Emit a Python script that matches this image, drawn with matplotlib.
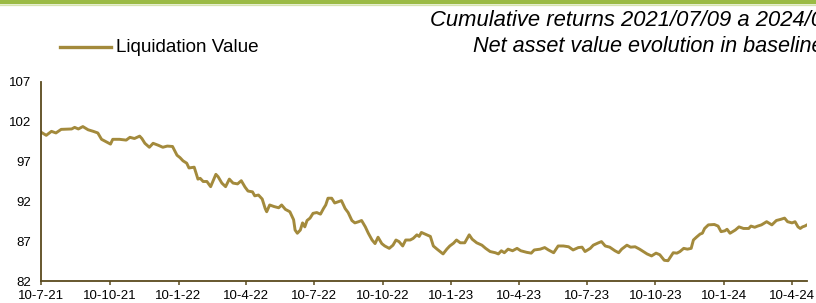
import pandas as pd
import matplotlib
matplotlib.use("Agg")
import matplotlib.pyplot as plt
from matplotlib.lines import Line2D

# ---- DATA ----
START_DATE = "2021-07-10"
END_DATE = "2024-04-30"

# days since START_DATE
days = [
    0, 7, 14, 20, 27, 41, 45, 50, 56, 63, 70, 76, 81, 87, 93, 96, 105, 114, 119, 125,
    132, 135, 139, 145, 150, 157, 163, 169, 176, 182, 186, 190, 195, 198, 205, 210, 213,
    217, 222, 227, 234, 237, 242, 247, 252, 257, 263, 268, 273, 277, 283, 286, 291, 296,
    300, 302, 306, 312, 318, 322, 327, 333, 338, 340, 343, 347, 350, 353, 356, 360, 364,
    369, 374, 378, 381, 384, 389, 393, 399, 402, 407, 411, 416, 420, 425, 429, 434, 438,
    443, 447, 451, 456, 460, 466, 471, 475, 479, 484, 488, 494, 498, 503, 506, 509, 516,
    521, 525, 530, 534, 538, 543, 547, 552, 556, 561, 567, 573, 577, 583, 590, 595, 601,
    608, 612, 616, 620, 625, 631, 637, 642, 650, 656, 660, 668, 674, 679, 686, 692, 699,
    706, 712, 719, 724, 728, 735, 739, 746, 750, 755, 761, 768, 773, 777, 784, 789, 795,
    801, 806, 811, 817, 823, 828, 834, 839, 846, 851, 855, 860, 865, 870, 873, 877, 882,
    885, 888, 893, 901, 906, 910, 915, 918, 922, 929, 934, 940, 947, 950, 955, 959, 964,
    971, 978, 984, 990, 995, 999, 1005, 1009, 1013, 1016, 1019, 1022, 1025,
]

liquidation_value = [
    100.7, 100.3, 100.8, 100.6, 101.05, 101.1, 101.3, 101.1, 101.4, 101.0, 100.8, 100.6,
    99.8, 99.5, 99.2, 99.8, 99.8, 99.7, 100.05, 99.9, 100.2, 99.9, 99.3, 98.8, 99.3, 99.05,
    98.8, 98.95, 98.9, 97.8, 97.5, 97.1, 96.8, 96.2, 96.3, 94.8, 94.9, 94.5, 94.5, 93.85,
    95.4, 95.1, 94.3, 93.85, 94.8, 94.3, 94.2, 94.6, 93.8, 93.3, 93.2, 92.7, 92.8, 92.3,
    91.1, 90.7, 91.55, 91.35, 91.2, 91.55, 91.0, 90.7, 89.7, 88.4, 88.0, 88.4, 89.3, 88.8,
    89.6, 89.9, 90.5, 90.6, 90.4, 91.1, 91.55, 92.4, 92.4, 91.8, 92.0, 92.1, 91.1, 90.6,
    89.6, 89.3, 89.45, 89.6, 88.8, 88.0, 87.15, 86.7, 87.5, 86.7, 86.4, 86.1, 86.5, 87.15,
    86.95, 86.4, 87.15, 87.15, 87.35, 87.8, 87.6, 88.1, 87.8, 87.6, 86.4, 86.0, 85.7, 85.4,
    86.0, 86.4, 86.75, 87.15, 86.8, 86.8, 87.8, 87.25, 86.8, 86.5, 86.1, 85.7, 85.55, 85.4,
    85.8, 85.55, 86.0, 85.8, 86.1, 85.8, 85.6, 85.5, 85.9, 86.0, 86.2, 85.9, 85.55, 86.4,
    86.4, 86.3, 85.9, 86.2, 86.25, 85.7, 86.1, 86.5, 86.8, 86.95, 86.4, 86.25, 85.8, 85.55,
    86.0, 86.5, 86.25, 86.3, 86.0, 85.7, 85.4, 85.15, 85.5, 85.3, 84.6, 84.55, 85.55, 85.5,
    85.7, 86.1, 86.0, 86.1, 87.15, 87.5, 87.9, 88.0, 88.6, 89.05, 89.1, 88.9, 88.2, 88.3,
    88.5, 88.0, 88.4, 88.8, 88.6, 88.6, 88.9, 88.75, 88.9, 89.05, 89.45, 89.05, 89.6, 89.75,
    89.9, 89.45, 89.3, 89.45, 88.8, 88.6, 88.8, 88.9, 89.05,
]

tick_dates = [
    "2021-07-10", "2021-10-10", "2022-01-10", "2022-04-10", "2022-07-10", "2022-10-10",
    "2023-01-10", "2023-04-10", "2023-07-10", "2023-10-10", "2024-01-10", "2024-04-10",
]
y_ticks = [82, 87, 92, 97, 102, 107]

TITLE_1 = "Cumulative returns 2021/07/09 a 2024/04/30"
TITLE_2 = "Net asset value evolution in baseline 100"
SERIES_NAME = "Liquidation Value"
# -------------------

LINE_COLOR = "#A38A3C"
AXIS_COLOR = "#5A4A1E"
GREEN = "#9BBB45"

plt.rcParams["font.family"] = ["Liberation Sans", "DejaVu Sans"]

dates = pd.to_datetime(START_DATE) + pd.to_timedelta(days, unit="D")
ticks = pd.to_datetime(tick_dates)

fig = plt.figure(figsize=(8.16, 3.03), dpi=100)
ax = fig.add_axes([41 / 816, 1 - 281 / 303, (807 - 41) / 816, (281 - 82) / 303])

ax.plot(dates, liquidation_value, color=LINE_COLOR, linewidth=2.1)

ax.set_xlim(pd.to_datetime(START_DATE), pd.to_datetime(END_DATE))
ax.set_ylim(82, 107)
ax.set_yticks(y_ticks)
ax.set_xticks(ticks)
ax.set_xticklabels([f"{d.day}-{d.month}-{d.year % 100}" for d in ticks])

for side in ["top", "right"]:
    ax.spines[side].set_visible(False)
for side in ["left", "bottom"]:
    ax.spines[side].set_color(AXIS_COLOR)
    ax.spines[side].set_linewidth(1.3)

ax.tick_params(axis="y", length=0, pad=7, labelsize=9.5)
ax.tick_params(axis="x", length=3, width=1.1, color=AXIS_COLOR, pad=3.5, labelsize=9.5)

# green band at the top of the page
fig.add_artist(Line2D([0, 1], [1 - 2.2 / 303] * 2, transform=fig.transFigure,
                      color=GREEN, linewidth=3.2))
fig.add_artist(Line2D([0, 1], [1 - 5 / 303] * 2, transform=fig.transFigure,
                      color="#D6E4AE", linewidth=0.9))

# legend
fig.add_artist(Line2D([60 / 816, 111 / 816], [1 - 47 / 303] * 2, transform=fig.transFigure,
                      color=LINE_COLOR, linewidth=2.4))
fig.text(116 / 816, 1 - 47 / 303, SERIES_NAME, fontsize=13.6, va="center", ha="left")

# titles (run off the right edge like the reference)
fig.text(430 / 816, 1 - 20 / 303, TITLE_1, fontsize=15.8, style="italic", va="center", ha="left")
fig.text(473 / 816, 1 - 47 / 303, TITLE_2, fontsize=15.6, style="italic", va="center", ha="left")

fig.savefig("out.png", dpi=100)
